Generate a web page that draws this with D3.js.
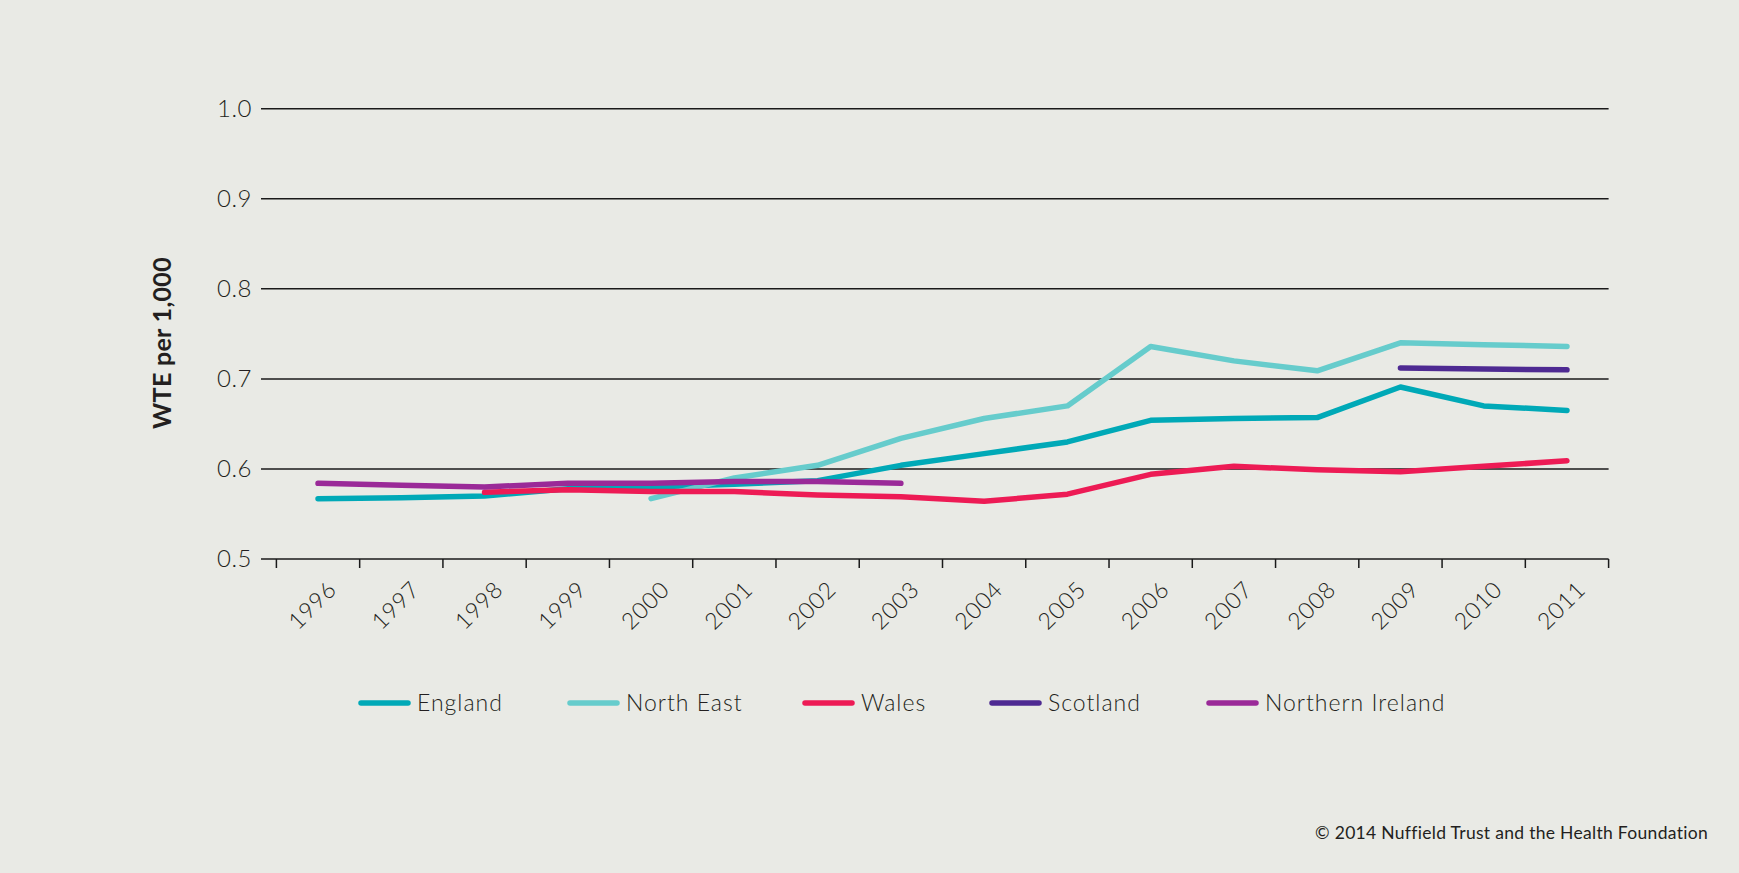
<!DOCTYPE html>
<html>
<head>
<meta charset="utf-8">
<script src="https://cdn.jsdelivr.net/npm/d3@7"></script>
<style>
  html, body { margin: 0; padding: 0; background: #e9eae5; }
  svg { display: block; }
  text { font-family: Lato, "Open Sans", sans-serif; fill: #231f20; }
</style>
</head>
<body>
<svg id="chart" width="1739" height="873"></svg>
<script>
// Whole-time equivalents per 1,000 population, by country/region
const years = ["1996","1997","1998","1999","2000","2001","2002","2003",
               "2004","2005","2006","2007","2008","2009","2010","2011"];

const england = [0.567, 0.568, 0.570, 0.578, 0.580, 0.583, 0.587, 0.604,
                 0.617, 0.630, 0.654, 0.656, 0.657, 0.691, 0.670, 0.665];
const northEast = [null, null, null, null, 0.567, 0.590, 0.604, 0.634,
                   0.656, 0.670, 0.736, 0.720, 0.709, 0.740, 0.738, 0.736];
const wales = [null, null, 0.574, 0.577, 0.575, 0.575, 0.571, 0.569,
               0.564, 0.572, 0.594, 0.603, 0.599, 0.597, 0.603, 0.609];
const scotland = [null, null, null, null, null, null, null, null,
                  null, null, null, null, null, 0.712, 0.711, 0.710];
const northernIreland = [0.584, 0.582, 0.580, 0.584, 0.584, 0.586, 0.586, 0.584,
                         null, null, null, null, null, null, null, null];

const yTicks = [0.5, 0.6, 0.7, 0.8, 0.9, 1.0];

const seriesNames = ["England", "North East", "Wales", "Scotland", "Northern Ireland"];
const seriesValues = [england, northEast, wales, scotland, northernIreland];
const seriesColors = ["#00a9b7", "#66cccc", "#ed1b55", "#4e2a92", "#9a2a98"];

const svg = d3.select("#chart");

const x = d3.scaleBand().domain(years).range([276.4, 1608.6]);
const y = d3.scaleLinear().domain([0.5, 1.0]).range([559, 108.7]);
const gridLeft = 261;

// horizontal gridlines (the 0.5 line doubles as the x axis)
svg.append("g")
  .selectAll("line")
  .data(yTicks)
  .join("line")
  .attr("x1", gridLeft)
  .attr("x2", x.range()[1])
  .attr("y1", d => y(d))
  .attr("y2", d => y(d))
  .attr("stroke", "#1a1a1a")
  .attr("stroke-width", 1.5);

// y tick labels
svg.append("g")
  .selectAll("text")
  .data(yTicks)
  .join("text")
  .attr("x", 252)
  .attr("y", d => y(d))
  .attr("dy", "0.35em")
  .attr("text-anchor", "end")
  .attr("font-size", 24)
  .attr("font-weight", 300)
  .attr("letter-spacing", 0.5)
  .text(d => d.toFixed(1));

// x ticks at band boundaries
const boundaries = years.map(d => x(d)).concat([x.range()[1]]);
svg.append("g")
  .selectAll("line")
  .data(boundaries)
  .join("line")
  .attr("x1", d => d)
  .attr("x2", d => d)
  .attr("y1", y(0.5))
  .attr("y2", y(0.5) + 9)
  .attr("stroke", "#1a1a1a")
  .attr("stroke-width", 1.5);

// x labels, rotated
svg.append("g")
  .selectAll("text")
  .data(years)
  .join("text")
  .attr("transform", d => `translate(${x(d) + x.bandwidth() / 2 + 20},${y(0.5) + 32}) rotate(-45)`)
  .attr("text-anchor", "end")
  .attr("font-size", 23)
  .attr("font-weight", 300)
  .attr("letter-spacing", 0.8)
  .text(d => d);

// y axis title
svg.append("text")
  .attr("transform", `translate(171,${343}) rotate(-90)`)
  .attr("text-anchor", "middle")
  .attr("font-size", 25)
  .attr("font-weight", 700)
  .attr("letter-spacing", 0.3)
  .text("WTE per 1,000");

// series lines
const line = d3.line()
  .defined(d => d.v != null)
  .x(d => x(d.year) + x.bandwidth() / 2)
  .y(d => y(d.v));

svg.append("g")
  .selectAll("path")
  .data(seriesValues.map((vals, i) => ({
    name: seriesNames[i],
    color: seriesColors[i],
    pts: years.map((yr, j) => ({ year: yr, v: vals[j] }))
  })))
  .join("path")
  .attr("d", d => line(d.pts))
  .attr("fill", "none")
  .attr("stroke", d => d.color)
  .attr("stroke-width", 5.5)
  .attr("stroke-linecap", "round")
  .attr("stroke-linejoin", "round");

// legend
const legendX = [361, 570, 805, 992, 1209];
const legendY = 703;
const legend = svg.append("g")
  .selectAll("g")
  .data(seriesNames)
  .join("g")
  .attr("transform", (d, i) => `translate(${legendX[i]},${legendY})`);
legend.append("line")
  .attr("x1", 0).attr("x2", 47)
  .attr("y1", 0).attr("y2", 0)
  .attr("stroke", (d, i) => seriesColors[i])
  .attr("stroke-width", 5.5)
  .attr("stroke-linecap", "round");
legend.append("text")
  .attr("x", 56)
  .attr("y", 0)
  .attr("dy", "0.35em")
  .attr("font-size", 23)
  .attr("font-weight", 300)
  .attr("letter-spacing", 1)
  .text(d => d);

// credit line
svg.append("text")
  .attr("x", 1708)
  .attr("y", 839)
  .attr("text-anchor", "end")
  .attr("font-size", 17.5)
  .attr("letter-spacing", 0.3)
  .text("© 2014 Nuffield Trust and the Health Foundation");
</script>
</body>
</html>
